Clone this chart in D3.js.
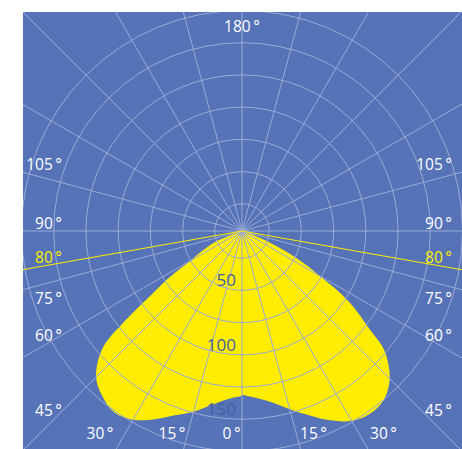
<!DOCTYPE html>
<html>
<head>
<meta charset="utf-8">
<script src="https://cdn.jsdelivr.net/npm/d3@7"></script>
<style>
  body { margin: 0; background: #fff; }
  svg text { font-family: "Open Sans", sans-serif; }
</style>
</head>
<body>
<div id="chart"></div>
<script>
// angles measured from nadir (0 = straight down)
var angles = [0, 5, 10, 15, 20, 25, 30, 35, 40, 45, 50, 52.5, 55, 57.5, 60, 62.5, 65, 67.5, 70, 75, 80, 85, 90];
var rightValues = [131, 134, 139, 147, 156, 166, 174, 177, 175, 166, 148, 128, 113, 96, 74, 58, 42, 27, 12, 5, 0, 0, 0];
var leftValues = [132, 135, 141, 149, 156, 165, 173, 176, 172, 164, 145, 118, 89, 70, 50, 41, 34, 27, 12, 5, 0, 0, 0];

var ringValues = [25, 50, 75, 100, 125, 150, 175];
var ringLabels = [50, 100, 150];
var spokeStep = 15;
var cutoffAngle = 80;

var sideLabels = ["105°", "90°", "80°", "75°", "60°", "45°"];
var sideLabelY = [170, 229, 263, 304, 341, 416];
var bottomLabels = ["30°", "15°", "0°", "15°", "30°"];
var bottomLabelX = [100, 172, 231.5, 313.5, 383.5];

var width = 462, height = 449;
var cx = 242, cy = 231;
var blue = "#5673b8", yellow = "#ffed00", grid = "#9aaad6";

var svg = d3.select("#chart").append("svg")
    .attr("width", width)
    .attr("height", height);

svg.append("defs").append("clipPath").attr("id", "frame")
    .append("rect").attr("x", 23).attr("y", 12).attr("width", 439).attr("height", 438);

svg.append("rect")
    .attr("x", 23).attr("y", 12).attr("width", 439).attr("height", 438)
    .attr("fill", blue);

var r = d3.scaleLinear().domain([0, 175]).range([-5, 220.5]);
var rad = function(v) { return Math.max(0, r(v)); };

var g = svg.append("g")
    .attr("clip-path", "url(#frame)")
    .append("g")
    .attr("transform", "translate(" + cx + "," + cy + ")");

// right side from nadir up to 90, then left side from 90 back down to nadir
var pts = angles.map(function(a, i) { return { a: 180 - a, v: rightValues[i] }; });
var pl = angles.map(function(a, i) { return { a: 180 + a, v: leftValues[i] }; });
pts = pts.concat(pl.reverse().slice(1));

var line = d3.lineRadial()
    .angle(function(d) { return d.a * Math.PI / 180; })
    .radius(function(d) { return rad(d.v); })
    .curve(d3.curveCatmullRom);

g.append("path")
    .attr("d", line(pts) + "Z")
    .attr("fill", yellow);

// rings
g.selectAll("circle.ring")
    .data(ringValues)
    .enter().append("circle")
    .attr("class", "ring")
    .attr("r", function(d) { return r(d); })
    .attr("fill", "none")
    .attr("stroke", grid)
    .attr("stroke-width", 1);

// spokes
var spokes = d3.range(0, 360, spokeStep);
g.selectAll("line.spoke")
    .data(spokes)
    .enter().append("line")
    .attr("class", "spoke")
    .attr("x1", 0).attr("y1", 0)
    .attr("x2", function(d) { return 400 * Math.sin(d * Math.PI / 180); })
    .attr("y2", function(d) { return 400 * Math.cos(d * Math.PI / 180); })
    .attr("stroke", grid)
    .attr("stroke-width", 1);

// cutoff lines at +-80 from nadir
g.selectAll("line.cut")
    .data([cutoffAngle, -cutoffAngle])
    .enter().append("line")
    .attr("class", "cut")
    .attr("x1", 0).attr("y1", 0)
    .attr("x2", function(d) { return 400 * Math.sin(d * Math.PI / 180); })
    .attr("y2", function(d) { return 400 * Math.cos(d * Math.PI / 180); })
    .attr("stroke", yellow)
    .attr("stroke-width", 1);

// ring labels
g.selectAll("text.ringlabel")
    .data(ringLabels)
    .enter().append("text")
    .attr("x", -6)
    .attr("y", function(d) { return r(d) - 4; })
    .attr("text-anchor", "end")
    .attr("font-size", 17)
    .attr("fill", "#44609f")
    .text(function(d) { return d; });

function degText(s) { return s.replace("°", "\u2009°"); }

// side labels
[452, 62].forEach(function(xEnd) {
    svg.selectAll(null)
        .data(sideLabels)
        .enter().append("text")
        .attr("x", xEnd)
        .attr("y", function(d, i) { return sideLabelY[i]; })
        .attr("text-anchor", "end")
        .attr("font-size", 15.5)
        .attr("fill", function(d) { return d === cutoffAngle + "°" ? yellow : "#fff"; })
        .text(degText);
});

svg.selectAll(null)
    .data(bottomLabels)
    .enter().append("text")
    .attr("x", function(d, i) { return bottomLabelX[i]; })
    .attr("y", 439)
    .attr("text-anchor", "middle")
    .attr("font-size", 15.5)
    .attr("fill", "#fff")
    .text(degText);

svg.append("text")
    .attr("x", cx)
    .attr("y", 32)
    .attr("text-anchor", "middle")
    .attr("font-size", 15.5)
    .attr("fill", "#fff")
    .text(degText("180°"));
</script>
</body>
</html>
